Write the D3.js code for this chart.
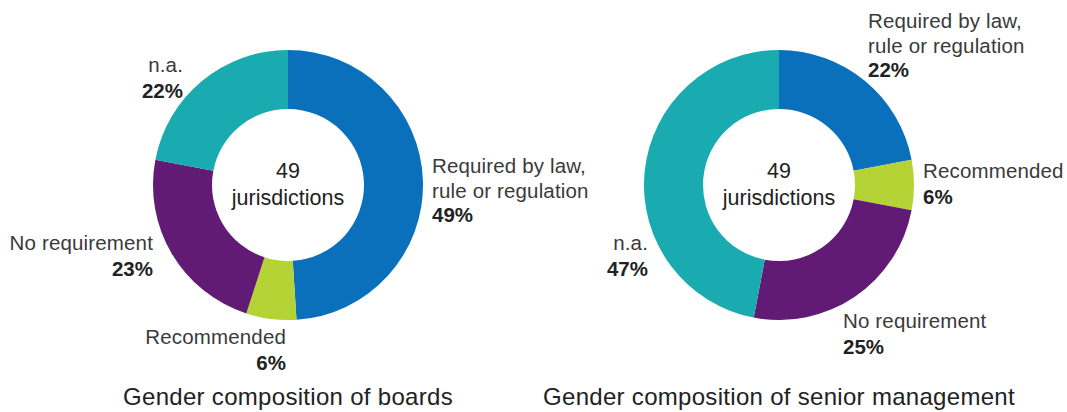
<!DOCTYPE html>
<html>
<head>
<meta charset="utf-8">
<script src="https://cdn.jsdelivr.net/npm/d3@7"></script>
<style>
  html, body { margin: 0; padding: 0; background: #fff; }
  svg { display: block; font-family: "Liberation Sans", Arial, Helvetica, sans-serif; }
</style>
</head>
<body>
<svg id="chart" width="1067" height="412"></svg>
<script>
// ---- data ----
const categories = ["Required by law, rule or regulation", "Recommended", "No requirement", "n.a."];
const boardsValues = [49, 6, 23, 22];
const seniorValues = [22, 6, 25, 47];
const chartTitles = ["Gender composition of boards", "Gender composition of senior management"];
const centerLabel = ["49", "jurisdictions"];
const colors = ["#0a70bb", "#b5d334", "#621b74", "#19abb0"];

// label text lines per category (the category name split across lines)
const labelLines = [["Required by law,", "rule or regulation"], ["Recommended"], ["No requirement"], ["n.a."]];

// ---- layout ----
const svg = d3.select("#chart");
const outerR = 135, innerR = 76;
const charts = [
  { values: boardsValues, cx: 288, cy: 185, title: chartTitles[0],
    labels: [ {x: 432, y: 173, anchor: "start"}, {x: 286, y: 344, anchor: "end"},
              {x: 153, y: 250, anchor: "end"}, {x: 183, y: 72, anchor: "end"} ] },
  { values: seniorValues, cx: 779, cy: 185, title: chartTitles[1],
    labels: [ {x: 868, y: 28, anchor: "start"}, {x: 923, y: 178, anchor: "start"},
              {x: 843, y: 328, anchor: "start"}, {x: 648, y: 250, anchor: "end"} ] }
];

const pie = d3.pie().sort(null).value(d => d.value);
const arc = d3.arc().innerRadius(innerR).outerRadius(outerR);
const color = d3.scaleOrdinal().domain(categories).range(colors);
const lineH = 24.5;

charts.forEach(ch => {
  const data = categories.map((c, i) => ({ cat: c, value: ch.values[i], idx: i }));
  const g = svg.append("g").attr("transform", `translate(${ch.cx},${ch.cy})`);
  g.selectAll("path").data(pie(data)).join("path")
    .attr("d", arc)
    .attr("fill", d => color(d.data.cat));

  // centre text
  g.append("text").attr("text-anchor", "middle").attr("y", -7)
    .attr("font-size", 21.5).attr("fill", "#222").text(centerLabel[0]);
  g.append("text").attr("text-anchor", "middle").attr("y", 20)
    .attr("font-size", 21.5).attr("fill", "#222").text(centerLabel[1]);

  // slice labels
  data.forEach((d, i) => {
    const L = ch.labels[i];
    const t = svg.append("text").attr("text-anchor", L.anchor);
    labelLines[i].forEach((ln, k) => {
      t.append("tspan").attr("x", L.x).attr("y", L.y + k * lineH)
        .attr("font-size", 20.5).attr("letter-spacing", 0.15).attr("fill", "#3a3a3a").text(ln);
    });
    t.append("tspan").attr("x", L.x).attr("y", L.y + labelLines[i].length * lineH + (labelLines[i].length === 1 ? 1 : 0))
      .attr("font-size", 20.5).attr("font-weight", "bold").attr("fill", "#222")
      .text(d.value + "%");
  });

  // title
  svg.append("text").attr("x", ch.cx).attr("y", 405).attr("text-anchor", "middle")
    .attr("font-size", 24).attr("letter-spacing", 0.3).attr("fill", "#222").text(ch.title);
});
</script>
</body>
</html>
